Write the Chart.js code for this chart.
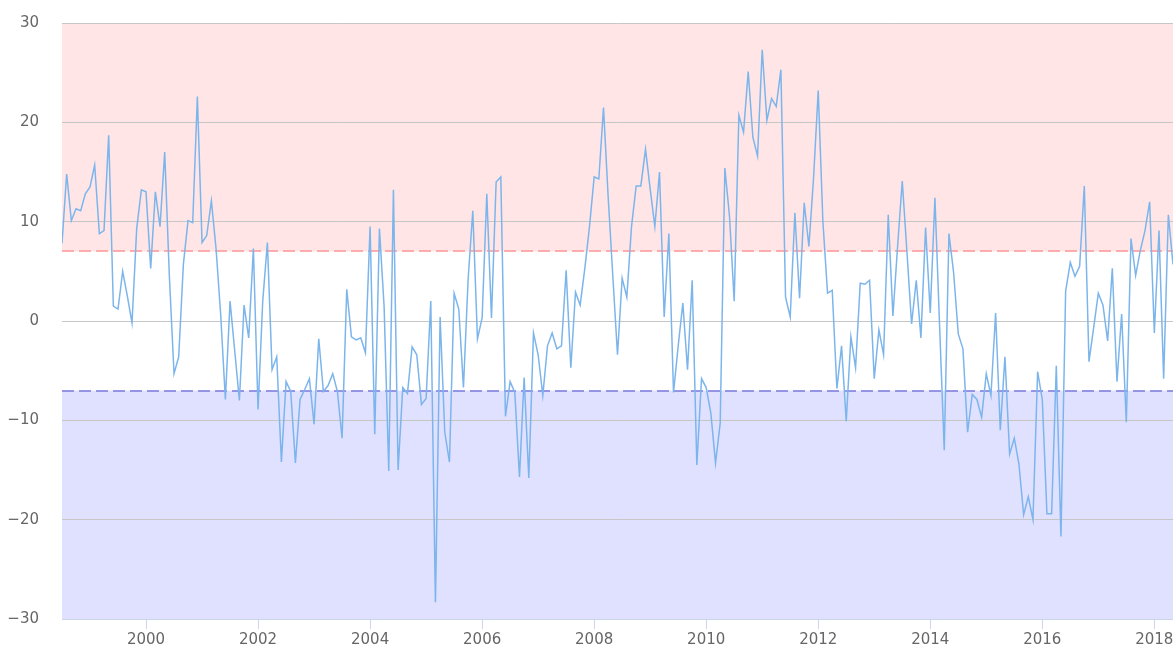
<!DOCTYPE html>
<html>
<head>
<meta charset="utf-8">
<script src="https://cdn.jsdelivr.net/npm/chart.js@4/dist/chart.umd.min.js"></script>
<style>
  html, body { margin: 0; padding: 0; background: #ffffff; }
  #wrap { width: 1173px; height: 648px; position: relative; }
</style>
</head>
<body>
<div id="wrap"><canvas id="c" width="1173" height="648"></canvas></div>
<script>
// Monthly series starting July 1998
const startYear = 1998;
const startMonth = 7;
const values = [
  7.8, 14.8, 10.1, 11.3, 11.1, 12.8, 13.5, 15.7, 8.8, 9.1,
  18.7, 1.5, 1.2, 5.0, 2.5, -0.2, 9.3, 13.2, 13.0, 5.3,
  13.0, 9.5, 17.0, 4.5, -5.3, -3.6, 5.7, 10.1, 9.9, 22.6,
  7.9, 8.6, 12.1, 7.3, 0.6, -7.9, 2.0, -3.0, -8.0, 1.6,
  -1.7, 7.3, -8.9, 2.0, 7.9, -4.9, -3.6, -14.2, -6.1, -7.1,
  -14.3, -7.9, -6.9, -5.8, -10.4, -1.8, -7.1, -6.5, -5.3, -7.1,
  -11.8, 3.2, -1.6, -1.9, -1.7, -3.2, 9.5, -11.4, 9.3, 1.5,
  -15.1, 13.2, -15.0, -6.7, -7.3, -2.6, -3.4, -8.4, -7.8, 2.0,
  -28.3, 0.4, -11.2, -14.2, 2.8, 1.2, -6.7, 4.2, 11.1, -1.8,
  0.3, 12.8, 0.3, 14.0, 14.5, -9.6, -6.1, -7.2, -15.7, -5.7,
  -15.8, -1.2, -3.4, -7.5, -2.5, -1.2, -2.8, -2.5, 5.1, -4.7,
  2.9, 1.6, 5.3, 9.5, 14.5, 14.3, 21.5, 12.5, 4.5, -3.4,
  4.3, 2.4, 9.5, 13.6, 13.6, 17.3, 13.3, 9.5, 15.0, 0.4,
  8.8, -7.2, -2.5, 1.8, -4.9, 4.1, -14.5, -5.8, -6.7, -9.3,
  -14.3, -10.3, 15.4, 10.5, 2.0, 20.7, 19.0, 25.1, 18.5, 16.6,
  27.3, 20.2, 22.4, 21.6, 25.3, 2.4, 0.4, 10.9, 2.3, 11.9,
  7.5, 14.4, 23.2, 10.0, 2.8, 3.1, -6.8, -2.5, -10.1, -1.6,
  -4.7, 3.8, 3.7, 4.1, -5.8, -0.9, -3.4, 10.7, 0.5, 7.5,
  14.1, 7.0, -0.3, 4.1, -1.7, 9.4, 0.8, 12.4, -0.5, -13.0,
  8.8, 4.9, -1.3, -2.8, -11.2, -7.4, -7.9, -9.7, -5.3, -7.5,
  0.8, -11.0, -3.6, -13.4, -11.8, -14.4, -19.5, -17.7, -20.0, -5.1,
  -7.9, -19.4, -19.4, -4.5, -21.7, 3.0, 5.9, 4.5, 5.5, 13.6,
  -4.1, -0.7, 2.8, 1.6, -2.0, 5.3, -6.1, 0.7, -10.2, 8.3,
  4.6, 7.1, 9.1, 12.0, -1.2, 9.1, -5.8, 10.7, 5.7
];
const yTicks = [-30, -20, -10, 0, 10, 20, 30];
const xTickYears = [2000, 2002, 2004, 2006, 2008, 2010, 2012, 2014, 2016, 2018];
const upperThreshold = 7;
const lowerThreshold = -7;

const startX = startYear + (startMonth - 1) / 12;
const points = values.map((v, i) => ({ x: startX + i / 12, y: v }));
const endX = startX + (values.length - 1) / 12;

const bandsPlugin = {
  id: 'bands',
  beforeDraw(chart) {
    const { ctx, chartArea: a, scales: { y } } = chart;
    ctx.save();
    const yUp = y.getPixelForValue(upperThreshold);
    const yLo = y.getPixelForValue(lowerThreshold);
    ctx.fillStyle = 'rgba(255, 0, 0, 0.1)';
    ctx.fillRect(a.left, a.top, a.right - a.left, yUp - a.top);
    ctx.fillStyle = 'rgba(0, 0, 255, 0.12)';
    ctx.fillRect(a.left, yLo, a.right - a.left, a.bottom - yLo);
    ctx.restore();
  },
  beforeDatasetsDraw(chart) {
    const { ctx, chartArea: a, scales: { y } } = chart;
    ctx.save();
    ctx.lineWidth = 2;
    ctx.setLineDash([12, 5]);
    const yUp = Math.round(y.getPixelForValue(upperThreshold));
    const yLo = Math.round(y.getPixelForValue(lowerThreshold));
    ctx.strokeStyle = 'rgba(255, 150, 150, 0.75)';
    ctx.beginPath(); ctx.moveTo(a.left, yUp); ctx.lineTo(a.right, yUp); ctx.stroke();
    ctx.strokeStyle = 'rgba(120, 120, 220, 0.75)';
    ctx.beginPath(); ctx.moveTo(a.left, yLo); ctx.lineTo(a.right, yLo); ctx.stroke();
    ctx.restore();
  }
};

new Chart(document.getElementById('c'), {
  type: 'line',
  data: {
    datasets: [{
      data: points,
      borderColor: '#7cb5ec',
      borderWidth: 1.5,
      pointRadius: 0,
      tension: 0,
      fill: false
    }]
  },
  options: {
    responsive: false,
    animation: false,
    layout: { padding: { top: 23, right: 0, left: 0, bottom: 0 } },
    plugins: { legend: { display: false }, tooltip: { enabled: false } },
    scales: {
      x: {
        type: 'linear',
        min: startX,
        max: endX,
        afterBuildTicks(scale) { scale.ticks = xTickYears.map(v => ({ value: v })); },
        afterFit(scale) { scale.height = 29; scale.paddingRight = 0; scale.paddingLeft = 0; },
        border: { display: true, color: '#ccd6eb', width: 1 },
        grid: { drawOnChartArea: false, drawTicks: true, tickLength: 10, color: '#ccd6eb' },
        ticks: {
          color: '#666666',
          font: { family: 'DejaVu Sans', size: 15 },
          padding: 2,
          maxRotation: 0,
          autoSkip: false,
          callback: v => String(Math.round(v))
        }
      },
      y: {
        min: -30,
        max: 30,
        afterBuildTicks(scale) { scale.ticks = yTicks.map(v => ({ value: v })); },
        afterFit(scale) { scale.width = 62; scale.paddingTop = 0; scale.paddingBottom = 0; },
        border: { display: false },
        grid: {
          drawTicks: false,
          color: ctx => (ctx.tick && ctx.tick.value === -30) ? 'rgba(0,0,0,0)' : '#c6c6c6',
          lineWidth: 1
        },
        ticks: {
          color: '#666666',
          font: { family: 'DejaVu Sans', size: 15 },
          padding: 23,
          callback: v => (v < 0 ? '\u2212' + Math.abs(v) : String(v))
        }
      }
    }
  },
  plugins: [bandsPlugin]
});
</script>
</body>
</html>
